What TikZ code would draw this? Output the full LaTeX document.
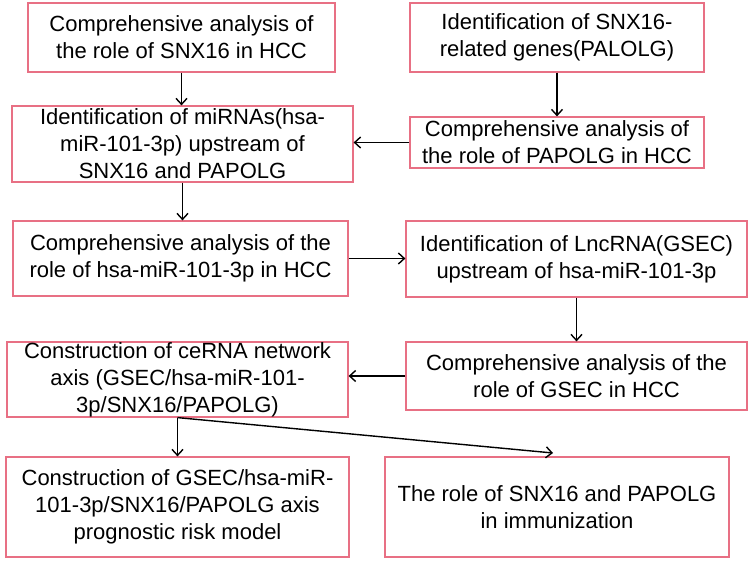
\documentclass[tikz,border=0pt]{standalone}
\usepackage{fontspec}
\setmainfont{Liberation Sans}
\usetikzlibrary{arrows.meta}
\definecolor{boxred}{RGB}{232,112,132}
\tikzset{
  stagebox/.style={draw=boxred, line width=1.2pt, align=center, inner sep=0pt,
    font=\fontsize{22}{27}\selectfont},
  flow/.style={-{Straight Barb[length=6pt,width=11pt]}, line width=1.4pt}
}

\begin{document}
\begin{tikzpicture}[x=1pt,y=-1pt]
\useasboundingbox (0,0) rectangle (750,562);
\node[stagebox, minimum width=307, minimum height=69] (snx) at (181.5,37.5)
  {Comprehensive analysis of\\the role of SNX16 in HCC};
\node[stagebox, minimum width=294, minimum height=69] (genes) at (557,37.5)
  {Identification of SNX16-\\related genes(PALOLG)};
\node[stagebox, minimum width=341, minimum height=76] (mirna) at (182.5,144)
  {Identification of miRNAs(hsa-\\miR-101-3p) upstream of\\SNX16 and PAPOLG};
\node[stagebox, minimum width=294, minimum height=51] (papolg) at (557,142.5)
  {Comprehensive analysis of\\the role of PAPOLG in HCC};
\node[stagebox, minimum width=335, minimum height=75] (mir) at (180.5,258.5)
  {Comprehensive analysis of the\\role of hsa-miR-101-3p in HCC};
\node[stagebox, minimum width=341, minimum height=76] (lnc) at (576.5,259)
  {Identification of LncRNA(GSEC)\\upstream of hsa-miR-101-3p};
\node[stagebox, minimum width=341, minimum height=68] (gsec) at (576.5,376)
  {Comprehensive analysis of the\\role of GSEC in HCC};
\node[stagebox, minimum width=341, minimum height=75] (cerna) at (177.5,379.5)
  {Construction of ceRNA network\\axis (GSEC/hsa-miR-101-\\3p/SNX16/PAPOLG)};
\node[stagebox, minimum width=343, minimum height=100] (risk) at (177.5,507)
  {Construction of GSEC/hsa-miR-\\101-3p/SNX16/PAPOLG axis\\prognostic risk model};
\node[stagebox, minimum width=344, minimum height=100] (immune) at (557,507)
  {The role of SNX16 and PAPOLG\\in immunization};
\coordinate (immunetip) at (553,453);

\draw[flow] (snx.south) -- (mirna.north -| snx.south);
\draw[flow] (genes.south) -- (papolg.north);
\draw[flow] (papolg.west) -- (papolg.west -| mirna.east);
\draw[flow] (mirna.south) -- (mirna.south |- mir.north);
\draw[flow] (mir.east) -- (mir.east -| lnc.west);
\draw[flow] (lnc.south) -- (gsec.north);
\draw[flow] (gsec.west) -- (gsec.west -| cerna.east);
\draw[flow] (cerna.south) -- (risk.north);
\draw[flow] (cerna.south) -- (immunetip);
\end{tikzpicture}
\end{document}
